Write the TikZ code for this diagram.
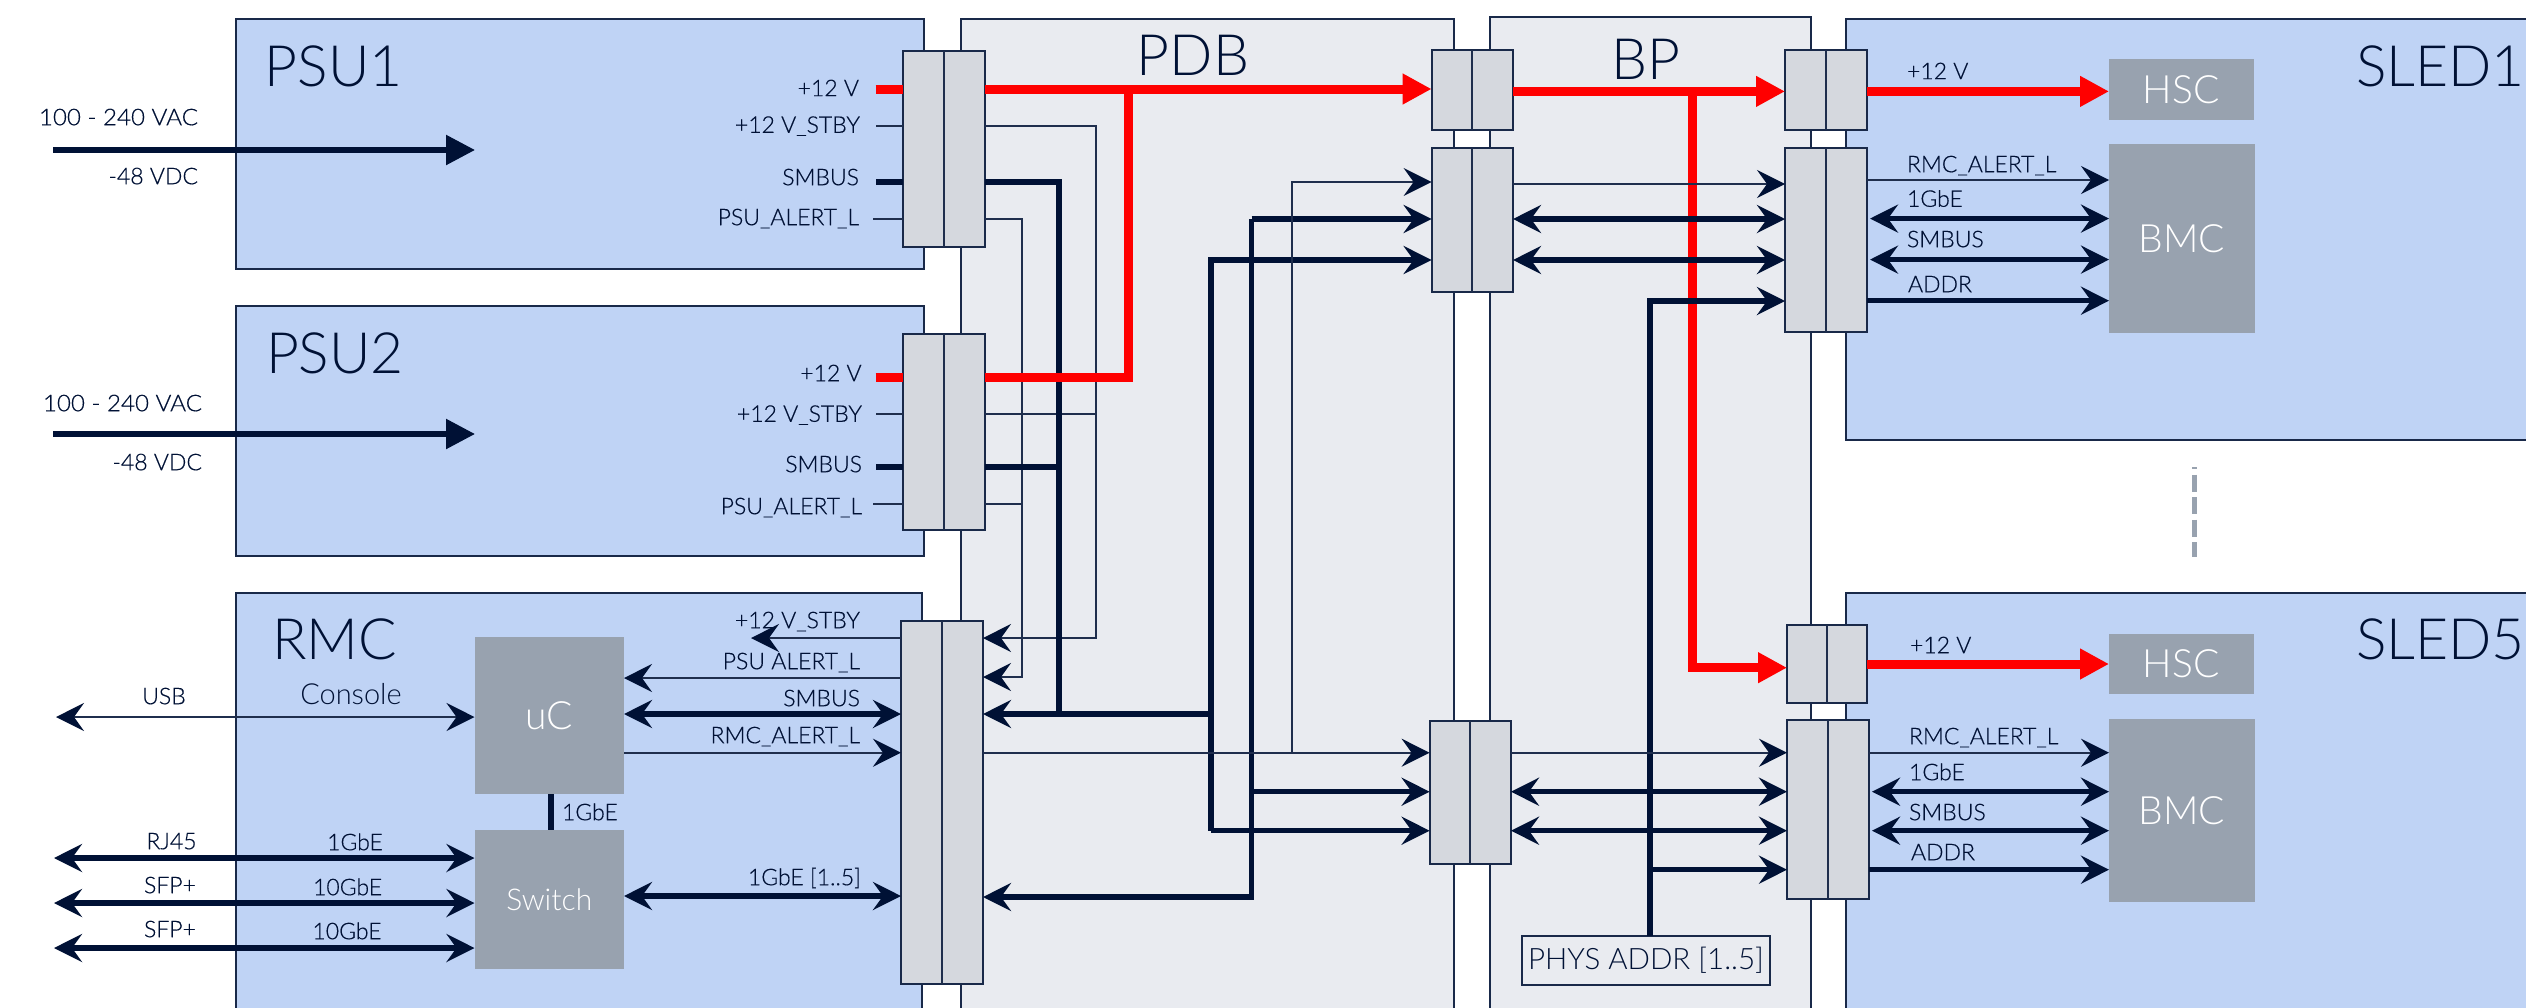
\documentclass[tikz,border=0pt]{standalone}
\usepackage{fontspec}
\setmainfont{Lato Light}
\newfontfamily\labfont[FakeBold=0.4]{Lato Light}
\usetikzlibrary{arrows.meta}
\definecolor{navy}{HTML}{001135}
\definecolor{bluefill}{HTML}{BFD3F5}
\definecolor{panelfill}{HTML}{E9EBF0}
\definecolor{connfill}{HTML}{D5D8DE}
\definecolor{blockfill}{HTML}{98A2AF}
\definecolor{pwr}{HTML}{FF0000}
\tikzset{
  boxbase/.style={anchor=north west,inner sep=0pt,outer sep=0pt,line width=2pt},
  module/.style={boxbase,draw=navy!90,fill=bluefill},
  panel/.style={boxbase,draw=navy!90,fill=panelfill},
  conn/.style={boxbase,draw=navy!90,fill=connfill},
  block/.style={boxbase,fill=blockfill,text=white,font=\fontsize{39pt}{39pt}\selectfont},
  lab/.style={inner sep=0pt,outer sep=0pt,text=navy,text height=16.4pt,text depth=0pt,font=\labfont\fontsize{23pt}{23pt}\selectfont},
  title/.style={inner sep=0pt,outer sep=0pt,text=navy,text height=42pt,text depth=0pt,font=\fontsize{57pt}{57pt}\selectfont},
  thinl/.style={draw=navy!88,line width=2pt},
  thickl/.style={draw=navy,line width=5.5pt},
  redl/.style={draw=pwr,line width=9pt},
  tip/.tip={Stealth[length=28pt,width=28pt,inset=10pt,color=navy]},
  rtip/.tip={Triangle[length=29pt,width=29pt]},
  ntip/.tip={Triangle[length=29pt,width=29pt]},
}
\begin{document}
\begin{tikzpicture}[x=1pt,y=-1pt,line join=miter]
\useasboundingbox (0,0) rectangle (2526,1007);
% modules
\node[module,minimum width=687.5pt,minimum height=250.5pt] (psua) at (236,18.5) {};
\node[module,minimum width=687.5pt,minimum height=250pt] (psub) at (236,306) {};
\node[module,minimum width=686pt,minimum height=430pt] (rmc) at (236,593) {};
\node[panel,minimum width=493.5pt,minimum height=1000pt] (pdb) at (960.5,18.5) {};
\node[panel,minimum width=321pt,minimum height=1000pt] (bp) at (1490,16.5) {};
\node[module,minimum width=700pt,minimum height=421.5pt] (sleda) at (1846,18.5) {};
\node[module,minimum width=700pt,minimum height=430pt] (slede) at (1846,593) {};
% blocks
\node[block,minimum width=149.5pt,minimum height=157pt] (uc) at (474.5,637) {uC};
\node[block,minimum width=149.5pt,minimum height=139pt,font=\fontsize{30pt}{30pt}\selectfont] (sw) at (474.5,830) {Switch};
\node[block,minimum width=144.5pt,minimum height=61pt] (hsca) at (2109,59) {HSC};
\node[block,minimum width=146pt,minimum height=189pt] (bmca) at (2109,144) {BMC};
\node[block,minimum width=144.5pt,minimum height=60pt] (hsce) at (2109,634) {HSC};
\node[block,minimum width=146pt,minimum height=183pt] (bmce) at (2109,719) {BMC};
% connectors
\node[conn,minimum width=82pt,minimum height=196.3pt] (ca) at (903,50.7) {};
\node[conn,minimum width=82pt,minimum height=196pt] (cb) at (903,334) {};
\node[conn,minimum width=82pt,minimum height=363pt] (cr) at (901,621) {};
\node[conn,minimum width=81.4pt,minimum height=80pt] (cd) at (1431.6,50) {};
\node[conn,minimum width=81.4pt,minimum height=144pt] (ce) at (1431.6,148) {};
\node[conn,minimum width=81.4pt,minimum height=143pt] (cf) at (1429.6,721) {};
\node[conn,minimum width=82pt,minimum height=80pt] (cg) at (1785,50) {};
\node[conn,minimum width=82pt,minimum height=184pt] (ch) at (1785,148) {};
\node[conn,minimum width=80pt,minimum height=78pt] (ci) at (1787,625) {};
\node[conn,minimum width=82pt,minimum height=179pt] (cj) at (1787,720) {};
\foreach \c in {ca,cb,cr,cd,ce,cf,cg,ch,ci,cj} \draw[thinl] (\c.north) -- (\c.south);
% junctions
\coordinate (jred) at (1128,89);
\coordinate (jredb) at (1128,377);
\coordinate (jstby) at (1096,126);
\coordinate (jstbyb) at (1096,413.6);
\coordinate (jstbyr) at (1096,638);
\coordinate (jbus) at (1059,182);
\coordinate (jbusb) at (1059,467);
\coordinate (jbusr) at (1059,714);
\coordinate (jal) at (1022,218.6);
\coordinate (jalb) at (1022,504);
\coordinate (jalr) at (1022,677);
\coordinate (jsm) at (1211,714);
\coordinate (jsmt) at (1211,260);
\coordinate (jsmd) at (1211,830.7);
\coordinate (jge) at (1251.5,219);
\coordinate (jgem) at (1251.5,791.7);
\coordinate (jgeb) at (1251.5,897);
\coordinate (jra) at (1292,182);
\coordinate (jrb) at (1292,752.7);
\coordinate (jbp) at (1692,91.4);
\coordinate (jbpb) at (1692,667.7);
\coordinate (jad) at (1650,301);
\coordinate (jadm) at (1650,869.7);
% PHYS ADDR box
\node[boxbase,draw=navy!90,fill=panelfill,minimum width=248pt,minimum height=49pt,text=navy,font=\fontsize{29.5pt}{29.5pt}\selectfont] (phys) at (1522,936) {PHYS ADDR [1..5]};
% BP and sled red rails, under the BP wiring
\draw[redl,-{rtip}] (cd.east |- 0,91.4) -- (cg.west |- 0,91.4);
\draw[redl,-{rtip}] (jbp) -- (jbpb) -- (ci.west |- 0,667.7);
\draw[redl,-{rtip}] (cg.east |- 0,91.4) -- (hsca.west |- 0,91.4);
\draw[redl,-{rtip}] (ci.east |- 0,664) -- (hsce.west |- 0,664);
% PSU stubs
\draw[redl] (875.6,89) -- (ca.west |- 0,89);
\draw[redl] (875.6,377) -- (cb.west |- 0,377);
\draw[thinl] (876,126) -- (ca.west |- 0,126);
\draw[thinl] (876,413.6) -- (cb.west |- 0,413.6);
\draw[thickl] (876,182) -- (ca.west |- 0,182);
\draw[thickl] (876,467) -- (cb.west |- 0,467);
\draw[thinl] (873,218.6) -- (ca.west |- 0,218.6);
\draw[thinl] (873,504) -- (cb.west |- 0,504);
% PDB wiring
\draw[thinl,-{tip}] (ca.east |- 0,126) -- (jstby) -- (jstbyr) -- (cr.east |- 0,638);
\draw[thinl] (cb.east |- 0,413.6) -- (jstbyb);
\draw[thinl,-{tip}] (ca.east |- 0,218.6) -- (jal) -- (jalr) -- (cr.east |- 0,677);
\draw[thinl] (cb.east |- 0,504) -- (jalb);
\draw[thickl] (ca.east |- 0,182) -- (jbus) -- (jbusr);
\draw[thickl] (cb.east |- 0,467) -- (jbusb);
\draw[thickl,-{tip}] (jsm) -- (cr.east |- 0,714);
\draw[thickl,-{tip}] (jsmd) -- (jsmt) -- (ce.west |- 0,260);
\draw[thickl,-{tip}] (jsmd) -- (cf.west |- 0,830.7);
\draw[thickl,-{tip}] (jge) -- (ce.west |- 0,219);
\draw[thickl,-{tip}] (jge) -- (jgeb) -- (cr.east |- 0,897);
\draw[thickl,-{tip}] (jgem) -- (cf.west |- 0,791.7);
\draw[thinl,-{tip}] (jrb) -- (jra) -- (ce.west |- 0,182);
\draw[thinl,-{tip}] (cr.east |- 0,752.7) -- (cf.west |- 0,752.7);
% PDB red rails, over the PDB wiring
\draw[redl,-{rtip}] (ca.east |- 0,89) -- (cd.west |- 0,89);
\draw[redl] (cb.east |- 0,377) -- (jredb) -- (jred);
% BP wiring
\draw[thinl,-{tip}] (ce.east |- 0,184) -- (ch.west |- 0,184);
\draw[thickl,{tip}-{tip}] (ce.east |- 0,219) -- (ch.west |- 0,219);
\draw[thickl,{tip}-{tip}] (ce.east |- 0,260) -- (ch.west |- 0,260);
\draw[thickl,-{tip}] (phys.north -| jad) -- (jad) -- (ch.west |- 0,301);
\draw[thinl,-{tip}] (cf.east |- 0,752.7) -- (cj.west |- 0,752.7);
\draw[thickl,{tip}-{tip}] (cf.east |- 0,791.7) -- (cj.west |- 0,791.7);
\draw[thickl,{tip}-{tip}] (cf.east |- 0,830.7) -- (cj.west |- 0,830.7);
\draw[thickl,-{tip}] (jadm) -- (cj.west |- 0,869.7);
% SLED wiring
\draw[thinl,-{tip}] (ch.east |- 0,180) -- (bmca.west |- 0,180);
\draw[thickl,{tip}-{tip}] (1870,218.6) -- (bmca.west |- 0,218.6);
\draw[thickl,{tip}-{tip}] (1870,259.6) -- (bmca.west |- 0,259.6);
\draw[thickl,-{tip}] (ch.east |- 0,300.7) -- (bmca.west |- 0,300.7);
\draw[thinl,-{tip}] (cj.east |- 0,752.7) -- (bmce.west |- 0,752.7);
\draw[thickl,{tip}-{tip}] (1872,791.7) -- (bmce.west |- 0,791.7);
\draw[thickl,{tip}-{tip}] (1872,830.7) -- (bmce.west |- 0,830.7);
\draw[thickl,-{tip}] (cj.east |- 0,869.7) -- (bmce.west |- 0,869.7);
% inputs
\coordinate (ina) at (53,150);
\coordinate (inb) at (53,434);
\coordinate (tipa) at (475,150);
\coordinate (tipb) at (475,434);
\coordinate (usb) at (56,717);
\coordinate (rj) at (54,858);
\coordinate (sfa) at (54,903);
\coordinate (sfb) at (54,948);
\draw[thickl,-{ntip}] (ina) -- (tipa);
\draw[thickl,-{ntip}] (inb) -- (tipb);
\draw[thinl,{tip}-{tip}] (usb) -- (uc.west |- usb);
\draw[thickl,{tip}-{tip}] (rj) -- (sw.west |- rj);
\draw[thickl,{tip}-{tip}] (sfa) -- (sw.west |- sfa);
\draw[thickl,{tip}-{tip}] (sfb) -- (sw.west |- sfb);
\draw[thickl] (uc.south -| 551,0) -- (sw.north -| 551,0);
\draw[thickl,{tip}-{tip}] (sw.east |- 0,896) -- (cr.west |- 0,896);
\draw[thinl,-{tip}] (cr.west |- 0,638) -- (751,638);
\draw[thinl,-{tip}] (cr.west |- 0,678) -- (uc.east |- 0,678);
\draw[thickl,{tip}-{tip}] (uc.east |- 0,714) -- (cr.west |- 0,714);
\draw[thinl,-{tip}] (uc.east |- 0,752.7) -- (cr.west |- 0,752.7);
% dashed separator
\coordinate (sepa) at (2194.5,467);
\coordinate (sepb) at (2194.5,557);
\draw[draw=blockfill,line width=5pt,dash pattern=on 17pt off 5.5pt,dash phase=15pt] (sepa) -- (sepb);
% titles
\node[title,anchor=west] (tpsua) at (264.6,65) {PSU1};
\node[title,anchor=west] (tpsub) at (266,352.5) {PSU2};
\node[title,anchor=west] (trmc) at (272,638) {RMC};
\node[title] (tpdb) at (1193,54) {PDB};
\node[title] (tbp) at (1646,58) {BP};
\node[title,anchor=west] (tsa) at (2356,65) {SLED1};
\node[title,anchor=west] (tse) at (2356,638) {SLED5};
% labels PSU1
\node[lab,anchor=east] (l1) at (859,88) {+12 V};
\node[lab,anchor=east] (l2) at (860,124.6) {+12 V\_STBY};
\node[lab,anchor=east] (l3) at (859,177) {SMBUS};
\node[lab,anchor=east] (l4) at (859,217) {PSU\_ALERT\_L};
\node[lab,anchor=east] (l5) at (198,117) {\scalebox{1.05}[1]{100 - 240 VAC}};
\node[lab,anchor=east] (l6) at (198,176) {-48 VDC};
% labels PSU2
\node[lab,anchor=east] (l7) at (861.6,373) {+12 V};
\node[lab,anchor=east] (l8) at (862,413.6) {+12 V\_STBY};
\node[lab,anchor=east] (l9) at (862,464) {SMBUS};
\node[lab,anchor=east] (l10) at (862,506) {PSU\_ALERT\_L};
\node[lab,anchor=east] (l11) at (202,403) {\scalebox{1.05}[1]{100 - 240 VAC}};
\node[lab,anchor=east] (l12) at (202,462) {-48 VDC};
% labels RMC
\node[lab,anchor=east] (l13) at (860,620) {+12 V\_STBY};
\node[lab,anchor=east] (l14) at (860,661) {PSU ALERT\_L};
\node[lab,anchor=east] (l15) at (860,698) {SMBUS};
\node[lab,anchor=east] (l16) at (860,735) {RMC\_ALERT\_L};
\node[lab] (l17) at (164,696) {USB};
\node[lab,font=\fontsize{29pt}{29pt}\selectfont] (l18) at (351,696) {Console};
\node[lab,anchor=west] (l19) at (562,812) {1GbE};
\node[lab] (l20) at (171.5,841) {RJ45};
\node[lab] (l21) at (355,842) {1GbE};
\node[lab] (l22) at (170,885) {SFP+};
\node[lab] (l23) at (347.6,887) {10GbE};
\node[lab] (l24) at (170,929) {SFP+};
\node[lab] (l25) at (347,931) {10GbE};
\node[lab,anchor=east] (l26) at (861,877) {1GbE [1..5]};
% labels SLED1
\node[lab,anchor=west] (l27) at (1907,71) {+12 V};
\node[lab,anchor=west] (l28) at (1907,164) {RMC\_ALERT\_L};
\node[lab,anchor=west] (l29) at (1907,198.6) {1GbE};
\node[lab,anchor=west] (l30) at (1907,239) {SMBUS};
\node[lab,anchor=west] (l31) at (1908,284) {ADDR};
% labels SLED5
\node[lab,anchor=west] (l32) at (1910,645) {+12 V};
\node[lab,anchor=west] (l33) at (1909,736) {RMC\_ALERT\_L};
\node[lab,anchor=west] (l34) at (1909,772) {1GbE};
\node[lab,anchor=west] (l35) at (1909,812) {SMBUS};
\node[lab,anchor=west] (l36) at (1911,852) {ADDR};
\end{tikzpicture}
\end{document}
